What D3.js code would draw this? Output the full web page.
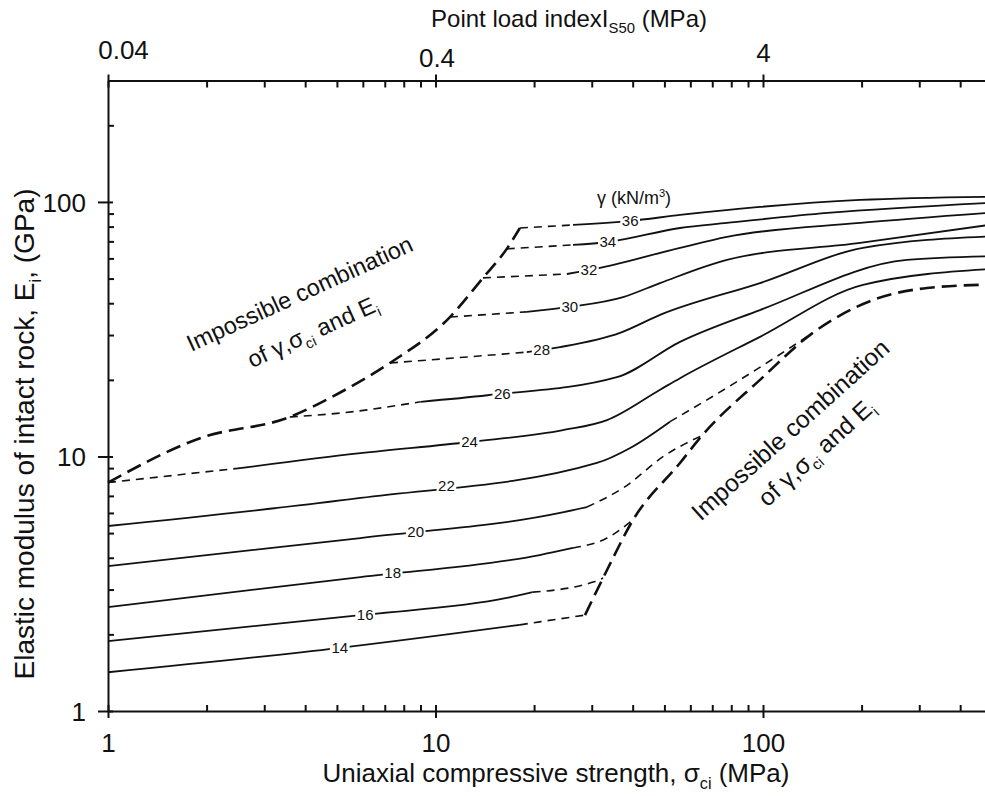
<!DOCTYPE html>
<html lang="en">
<head>
<meta charset="UTF-8">
<title>Elastic modulus of intact rock vs UCS</title>
<style>
  body { margin: 0; background: #fff; }
  svg { display: block; font-family: "Liberation Sans", Arial, sans-serif; fill: #111; }
  .curve { fill: none; stroke: #111; stroke-width: 1.8px; }
  .curve.dash { stroke-dasharray: 8 6; stroke-width: 1.6px; }
  .limit { fill: none; stroke: #111; stroke-width: 2.6px; stroke-dasharray: 15 7; }
  .axis path, .axis line { stroke: #111; stroke-width: 2px; }
  .axis text { font-family: "Liberation Sans", Arial, sans-serif; font-size: 26px; fill: #111; }
</style>
</head>
<body>
<div id="chart"></div>
<script src="https://cdn.jsdelivr.net/npm/d3@7"></script>
<script>
  // unit weight of each curve, kN/m3
  const gammas = [14, 16, 18, 20, 22, 24, 26, 28, 30, 32, 34, 36];

  // [sigma_ci (MPa), E_i (GPa)]
  const curvePoints = [
    [[1,1.42],[5.1,1.77],[18.1,2.18],[20.8,2.24],[28.6,2.38]],
    [[1,1.88],[5.9,2.38],[16.5,2.78],[19.8,2.93],[30.3,3.21],[32.5,3.33]],
    [[1,2.56],[5.9,3.36],[20.8,4.10],[26.3,4.37],[33.4,4.78],[40.7,5.73]],
    [[1,3.71],[5.9,4.78],[24.0,6.0],[29.0,6.33],[37.4,7.52],[50.2,10.1],[65.2,12.1]],
    [[1,5.33],[5.9,6.87],[31.1,9.43],[39.3,10.8],[52,13.7],[85,20.0],[142,30.6]],
    [[1,7.9],[2.53,9.0],[5.9,10.3],[12.7,11.4],[24.5,12.7],[33.4,13.9],[48.5,18.3],[55.8,20.3],[97.9,29.5],[202,47.2],[500,54.5]],
    [[3.59,14.3],[5.1,14.8],[9.0,16.4],[14.4,17.4],[35.8,20.5],[55.8,28.2],[97.9,37.6],[275,59.2],[500,61.2]],
    [[7.26,23.3],[12.5,24.6],[19.0,25.7],[24.0,26.9],[36.6,30.6],[48.5,36.0],[97.9,48.0],[202,66.0],[500,73.3]],
    [[11.07,35.3],[19.0,37.0],[25.7,38.7],[37.4,42.3],[48.5,48.0],[77.6,59.2],[198,69.0],[500,81.5]],
    [[13.96,50.3],[25.2,52.1],[31.8,55.1],[55.8,66.0],[77.6,72.9],[198,82.7],[500,90.8]],
    [[16.5,65.4],[26.3,67.8],[33.6,69.6],[55.8,79.0],[77.6,82.7],[157,90.5],[500,99.3]],
    [[18.1,79.0],[26.3,81.2],[39.3,84.2],[55.8,88.9],[97.9,95.6],[198,101.8],[500,104.8]]
  ];

  // point index where a curve switches dashed <-> solid
  // (14-22 go dashed on the right, 24-36 start dashed on the left)
  const dashSplit = [2, 3, 3, 3, 4, 1, 2, 2, 1, 1, 1, 1];

  // sigma_ci where the gamma number sits on its curve
  const labelSigma = [5.1, 6.1, 7.4, 8.7, 10.8, 12.7, 16.0, 21.1, 25.7, 29.4, 33.6, 39.3];

  // limits of possible combinations
  const upperLimit = [[1,7.9],[1.91,11.8],[3.59,14.3],[5.1,17.8],[7.26,23.3],[11.07,35.3],[13.96,50.3],[16.5,65.4],[18.1,79.0]];
  const lowerLimit = [[28.6,2.38],[33.4,3.58],[40.1,5.63],[55.8,9.43],[65.2,12.1],[97.9,20.0],[142,30.6],[217,41.2],[317,45.9],[500,47.4]];

  const xMajor = [1, 10, 100];
  const topMajor = [0.04, 0.4, 4];
  const yMajor = [1, 10, 100];

  const W = 985, H = 796;
  const svg = d3.select("#chart").append("svg").attr("width", W).attr("height", H);
  svg.append("rect").attr("width", W).attr("height", H).attr("fill", "#fff");

  const x = d3.scaleLog().domain([1, 1000]).range([108, 1090.5]);
  const xTop = d3.scaleLog().domain([0.04, 40]).range(x.range());
  const y = d3.scaleLog().domain([1, 300]).range([711, 80.5]);

  function minors(lo, hi) {
    const t = [];
    for (let d = lo; d < hi; d *= 10)
      for (let k = 2; k < 10; k++) if (d * k < hi) t.push(d * k);
    return t;
  }
  const clean = g => g.attr("font-family", null).attr("font-size", null);

  // bottom axis
  const gB = svg.append("g").attr("class", "axis").attr("transform", "translate(0,711)");
  gB.call(d3.axisBottom(x).tickValues(minors(1, 1000)).tickSize(-6).tickSizeOuter(0).tickFormat(""));
  gB.append("g").call(d3.axisBottom(x).tickValues(xMajor).tickSizeOuter(0).tickFormat(d3.format("d")))
    .call(clean)
    .call(g => g.select(".domain").remove())
    .call(g => g.selectAll(".tick line").attr("y1", -6).attr("y2", 7))
    .call(g => g.selectAll(".tick text").attr("y", 41).attr("dy", 0));

  // left axis
  const gL = svg.append("g").attr("class", "axis").attr("transform", "translate(108,0)");
  gL.call(d3.axisLeft(y).tickValues(minors(1, 300)).tickSize(-6).tickSizeOuter(0).tickFormat(""));
  gL.append("g").call(d3.axisLeft(y).tickValues(yMajor).tickSizeOuter(0).tickFormat(d3.format("d")))
    .call(clean)
    .call(g => g.select(".domain").remove())
    .call(g => g.selectAll(".tick line").attr("x1", -10).attr("x2", 5))
    .call(g => g.selectAll(".tick text").attr("x", -22).attr("dy", "0.36em"));

  // top axis: point load index, same positions as sigma_ci / 25
  const topDx = [15, 1, 0], topDy = [-22, -14, -19];
  const gT = svg.append("g").attr("class", "axis").attr("transform", "translate(0,80.5)");
  gT.call(d3.axisTop(x).tickValues(minors(1, 1000)).tickSize(-7).tickSizeOuter(0).tickFormat(""));
  gT.append("g").call(d3.axisTop(xTop).tickValues(topMajor).tickSizeOuter(0).tickFormat(d => String(d)))
    .call(clean)
    .call(g => g.select(".domain").remove())
    .call(g => g.selectAll(".tick line").attr("y1", -6).attr("y2", 7))
    .call(g => g.selectAll(".tick text").attr("dx", (d, i) => topDx[i]).attr("y", (d, i) => topDy[i]).attr("dy", 0));

  // curves
  const line = d3.line().x(d => x(d[0])).y(d => y(d[1])).curve(d3.curveMonotoneX);
  const plot = svg.append("g");
  gammas.forEach((g, i) => {
    const pts = curvePoints[i], k = dashSplit[i];
    const dashHead = g >= 24;
    plot.append("path").attr("class", dashHead ? "curve dash" : "curve").attr("d", line(pts.slice(0, k + 1)));
    plot.append("path").attr("class", dashHead ? "curve" : "curve dash").attr("d", line(pts.slice(k)));
  });
  plot.append("path").attr("class", "limit").attr("d", line(upperLimit));
  plot.append("path").attr("class", "limit").attr("d", line(lowerLimit));

  // gamma numbers on the curves
  function valueAt(pts, s) {
    for (let j = 1; j < pts.length; j++) {
      if (s <= pts[j][0]) {
        const [s0, e0] = pts[j - 1], [s1, e1] = pts[j];
        const t = Math.log(s / s0) / Math.log(s1 / s0);
        return Math.exp(Math.log(e0) + t * Math.log(e1 / e0));
      }
    }
    return pts[pts.length - 1][1];
  }
  gammas.forEach((g, i) => {
    const s = labelSigma[i], e = valueAt(curvePoints[i], s);
    const lg = svg.append("g").attr("transform", `translate(${x(s)},${y(e)})`);
    const t = lg.append("text").attr("text-anchor", "middle").attr("dy", "0.36em")
      .attr("font-size", 15).text(g);
    const b = t.node().getBBox();
    lg.insert("rect", "text").attr("x", b.x - 1.5).attr("y", b.y + 2)
      .attr("width", b.width + 3).attr("height", b.height - 4).attr("fill", "#fff");
  });

  // text with sub/superscripts
  function rich(sel, parts, size) {
    let shift = 0;
    parts.forEach(([txt, kind]) => {
      const target = kind === "sub" ? size * 0.25 : kind === "sup" ? -size * 0.38 : 0;
      sel.append("tspan").attr("dy", target - shift)
        .attr("font-size", kind ? size * 0.62 : size).text(txt);
      shift = target;
    });
    return sel;
  }

  rich(svg.append("text").attr("x", 634).attr("y", 204).attr("text-anchor", "middle"),
    [["γ (kN/m"], ["3", "sup"], [")"]], 18);

  rich(svg.append("text").attr("x", 569).attr("y", 27).attr("text-anchor", "middle"),
    [["Point load indexI"], ["S50", "sub"], [" (MPa)"]], 24);

  rich(svg.append("text").attr("x", 556).attr("y", 782).attr("text-anchor", "middle"),
    [["Uniaxial compressive strength, σ"], ["ci", "sub"], [" (MPa)"]], 26);

  rich(svg.append("text").attr("transform", "translate(34,434) rotate(-90)").attr("text-anchor", "middle"),
    [["Elastic modulus of intact rock, E"], ["i", "sub"], [", (GPa)"]], 28);

  // "impossible combination" notes
  const notes = [
    { cx: 303, cy: 301, angle: -24.5, size: 23.5, dx2: -4, dy2: 40 },
    { cx: 796, cy: 436, angle: -42, size: 24.5, dx2: 4, dy2: 34 }
  ];
  notes.forEach(n => {
    const g = svg.append("g").attr("transform", `translate(${n.cx},${n.cy}) rotate(${n.angle})`);
    g.append("text").attr("text-anchor", "middle").attr("font-size", n.size).text("Impossible combination");
    rich(g.append("text").attr("x", n.dx2).attr("y", n.dy2).attr("text-anchor", "middle"),
      [["of γ,σ"], ["ci", "sub"], [" and E"], ["i", "sub"]], n.size);
  });
</script>
</body>
</html>
